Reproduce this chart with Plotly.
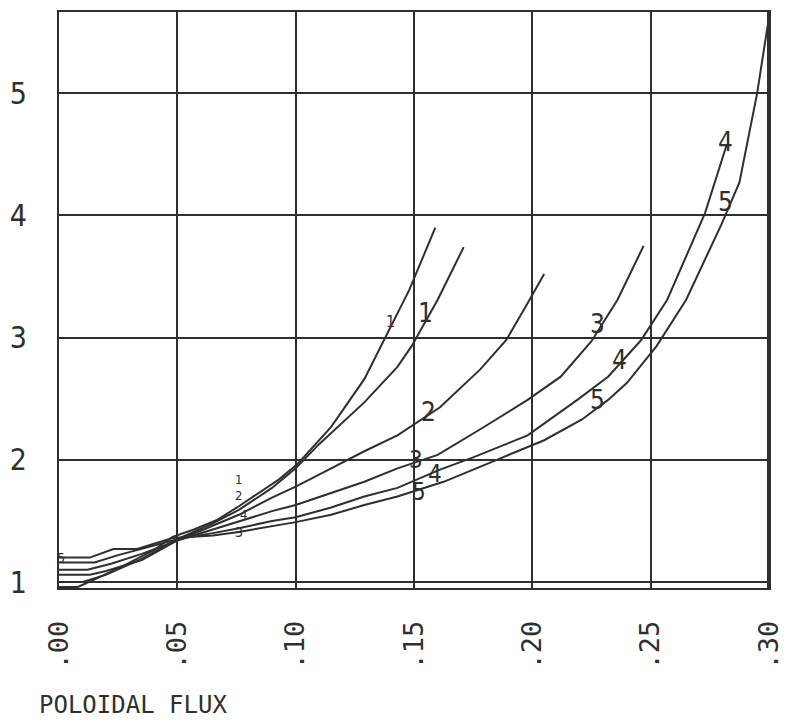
import plotly.graph_objects as go

# ---- data ----
curve_names = ["1a", "1b", "2", "3", "4", "5"]

A_x = [0, .008, .016, .028, .04, .048, .057, .067, .076, .082, .093, .101, .115, .129, .136, .148, .159]
A_y = [0.96, 0.96, 1.03, 1.14, 1.26, 1.37, 1.43, 1.51, 1.62, 1.70, 1.84, 1.97, 2.27, 2.66, 2.93, 3.39, 3.90]

B_x = [0, .01, .02, .035, .05, .065, .076, .09, .1, .11, .129, .143, .149, .160, .171]
B_y = [1.0, 1.0, 1.06, 1.19, 1.35, 1.48, 1.59, 1.77, 1.93, 2.13, 2.47, 2.76, 2.93, 3.31, 3.74]

C_x = [0, .013, .02, .035, .05, .065, .076, .09, .1, .115, .129, .143, .161, .178, .189, .198, .205]
C_y = [1.06, 1.06, 1.09, 1.18, 1.34, 1.46, 1.55, 1.69, 1.78, 1.93, 2.07, 2.20, 2.43, 2.74, 2.98, 3.28, 3.52]

D_x = [0, .012, .022, .035, .05, .065, .076, .09, .1, .115, .129, .143, .160, .178, .198, .212, .225, .236, .247]
D_y = [1.10, 1.10, 1.15, 1.23, 1.34, 1.43, 1.49, 1.58, 1.63, 1.73, 1.82, 1.93, 2.04, 2.25, 2.49, 2.68, 2.97, 3.31, 3.75]

E_x = [0, .015, .025, .04, .05, .065, .076, .09, .1, .115, .129, .143, .161, .175, .198, .219, .232, .246, .257, .273, .282]
E_y = [1.16, 1.16, 1.22, 1.30, 1.35, 1.40, 1.44, 1.50, 1.53, 1.61, 1.70, 1.77, 1.92, 2.02, 2.20, 2.49, 2.68, 2.98, 3.31, 4.02, 4.57]

F_x = [0, .013, .023, .033, .048, .065, .076, .09, .1, .115, .129, .143, .1625, .185, .205, .221, .232, .240, .2525, .265, .280, .2875, .293, .295, .299, .300]
F_y = [1.20, 1.20, 1.27, 1.27, 1.36, 1.38, 1.41, 1.46, 1.49, 1.55, 1.63, 1.70, 1.82, 2.00, 2.16, 2.33, 2.49, 2.63, 2.93, 3.31, 3.93, 4.27, 4.81, 5.00, 5.50, 5.61]

x_tick_vals = [0, 0.05, 0.10, 0.15, 0.20, 0.25, 0.30]
x_tick_text = [".00", ".05", ".10", ".15", ".20", ".25", ".30"]
y_tick_vals = [1, 2, 3, 4, 5]
y_tick_text = ["1", "2", "3", "4", "5"]

# curve labels: (text, x, y, size)
label_text = ["1", "1", "2", "3", "4", "5", "4", "5", "3", "4", "5", "1", "2", "4", "3", "5"]
label_x = [.140, .155, .156, .2275, .2367, .2275, .2817, .2817, .151, .159, .152, .076, .076, .078, .076, .001]
label_y = [3.13, 3.20, 2.39, 3.11, 2.82, 2.49, 4.60, 4.11, 2.00, 1.88, 1.74, 1.84, 1.71, 1.55, 1.41, 1.20]
label_size = [16, 26, 26, 26, 26, 26, 26, 26, 24, 24, 24, 13, 13, 13, 14, 14]

INK = "#2f2f2f"
FONT = "Liberation Sans Narrow, DejaVu Sans Condensed, DejaVu Sans Mono, sans-serif"

fig = go.Figure()
for xs, ys, nm in zip([A_x, B_x, C_x, D_x, E_x, F_x], [A_y, B_y, C_y, D_y, E_y, F_y], curve_names):
    fig.add_trace(go.Scatter(x=xs, y=ys, mode="lines", name=nm,
                             line=dict(color=INK, width=2), showlegend=False))

for t, x, y, s in zip(label_text, label_x, label_y, label_size):
    fig.add_annotation(x=x, y=y, text=t, showarrow=False,
                       font=dict(family=FONT, size=s, color=INK))

# heavy right border
fig.add_shape(type="line", xref="x", yref="paper", x0=0.30, x1=0.30, y0=0, y1=1,
              line=dict(color=INK, width=4))

fig.add_annotation(xref="paper", yref="paper", x=-0.031, y=-0.203, xanchor="left", yanchor="middle",
                   text="POLOIDAL FLUX", showarrow=False,
                   font=dict(family="DejaVu Sans Mono", size=24, color=INK))

fig.update_xaxes(range=[0, 0.30], tickvals=x_tick_vals, ticktext=x_tick_text, tickangle=-90,
                 showgrid=True, gridcolor=INK, gridwidth=2, zeroline=False,
                 showline=True, linecolor=INK, linewidth=2, mirror=True,
                 ticks="", ticklabelstandoff=20,
                 tickfont=dict(family="DejaVu Sans Mono", size=27, color=INK))
fig.update_yaxes(range=[0.951, 5.664], tickvals=y_tick_vals, ticktext=y_tick_text,
                 showgrid=True, gridcolor=INK, gridwidth=2, zeroline=False,
                 showline=True, linecolor=INK, linewidth=2, mirror=True,
                 ticks="", ticklabelstandoff=24,
                 tickfont=dict(family=FONT, size=30, color=INK))

fig.update_layout(width=794, height=722, margin=dict(l=57, r=17, t=10, b=134),
                  plot_bgcolor="white", paper_bgcolor="white")

fig.write_html("out.html")
